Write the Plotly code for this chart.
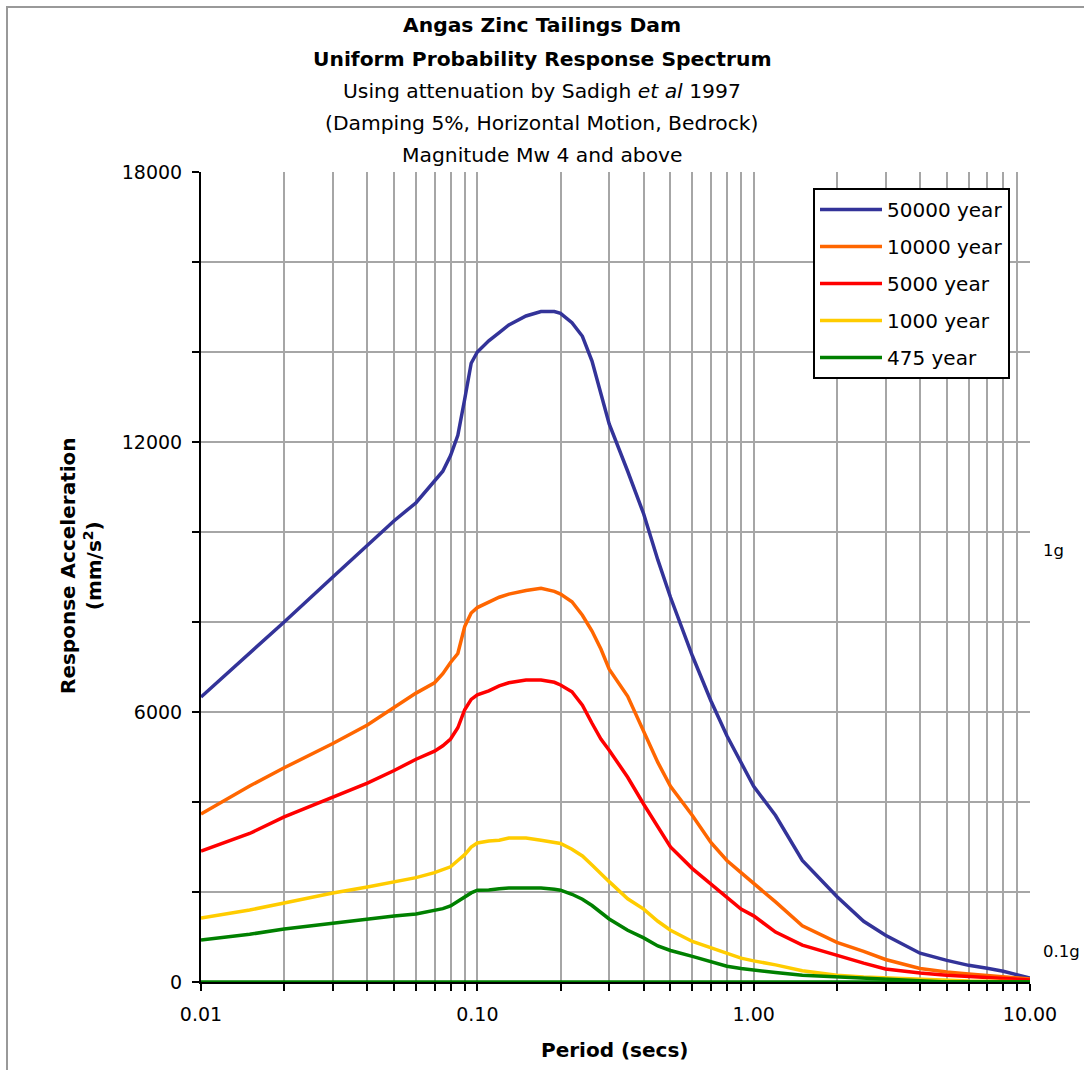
import plotly.graph_objects as go

periods = [0.01, 0.015, 0.02, 0.03, 0.04, 0.05, 0.06, 0.07, 0.075, 0.08, 0.085, 0.09, 0.095,
           0.1, 0.11, 0.12, 0.13, 0.15, 0.17, 0.19, 0.2, 0.22, 0.24, 0.26, 0.28, 0.3, 0.35,
           0.4, 0.45, 0.5, 0.6, 0.7, 0.8, 0.9, 1.0, 1.2, 1.5, 2.0, 2.5, 3.0, 4.0, 5.0, 6.0,
           7.0, 8.0, 10.0]

y50000 = [6333, 7300, 8000, 9000, 9700, 10250, 10650, 11150, 11350, 11700, 12150, 12950, 13750,
          14000, 14250, 14430, 14600, 14800, 14900, 14900, 14860, 14650, 14350, 13800, 13050, 12400, 11350,
          10400, 9380, 8550, 7250, 6250, 5470, 4880, 4350, 3700, 2700, 1900, 1350, 1040, 640, 480, 370,
          305, 240, 89]

y10000 = [3733, 4356, 4760, 5300, 5710, 6100, 6420, 6650, 6850, 7100, 7300, 7900, 8200,
          8320, 8450, 8550, 8620, 8700, 8750, 8680, 8620, 8450, 8150, 7800, 7400, 6950, 6350,
          5550, 4880, 4350, 3700, 3100, 2700, 2430, 2200, 1780, 1250, 880, 680, 500, 300, 220, 180,
          150, 120, 67]

y5000 = [2911, 3300, 3670, 4110, 4420, 4700, 4950, 5130, 5250, 5400, 5650, 6050, 6280,
         6380, 6470, 6580, 6650, 6710, 6710, 6660, 6600, 6450, 6150, 5750, 5400, 5150, 4550,
         3950, 3450, 3000, 2520, 2170, 1880, 1620, 1470, 1110, 820, 590, 420, 290, 200, 150, 120,
         100, 80, 44]

y1000 = [1422, 1600, 1756, 1978, 2111, 2230, 2320, 2430, 2490, 2560, 2700, 2830, 3000,
         3090, 3133, 3150, 3200, 3200, 3150, 3110, 3080, 2950, 2800, 2600, 2400, 2230, 1850,
         1620, 1350, 1150, 900, 760, 630, 530, 470, 380, 250, 150, 110, 89, 50, 30, 20,
         15, 10, 5]

y475 = [933, 1060, 1178, 1311, 1400, 1467, 1511, 1580, 1630, 1689, 1790, 1890, 1980,
        2040, 2044, 2070, 2089, 2089, 2089, 2060, 2040, 1950, 1840, 1700, 1550, 1400, 1150,
        980, 800, 700, 570, 450, 350, 300, 260, 210, 150, 110, 90, 70, 20, 0, 0,
        0, 0, 0]

zero_line = [0, 0]
zero_periods = [0.01, 10.0]

series_names = ["50000 year", "10000 year", "5000 year", "1000 year", "475 year"]
series_values = [y50000, y10000, y5000, y1000, y475]
series_colors = ["#333399", "#FF6600", "#FF0000", "#FFCC00", "#008000"]

x_tickvals = [m * 10 ** e for e in (-2, -1, 0) for m in range(1, 10)] + [10]
x_ticktext = [("%.2f" % v) if m == 1 else "" for e in (-2, -1, 0) for m, v in
              [(m, m * 10 ** e) for m in range(1, 10)]] + ["10.00"]
y_tickvals = list(range(0, 18001, 2000))
y_ticktext = [str(v) if v % 6000 == 0 else "" for v in y_tickvals]

FONT = "DejaVu Sans"

fig = go.Figure()
for i, (name, vals, col) in enumerate(zip(series_names, series_values, series_colors)):
    fig.add_trace(go.Scatter(x=periods, y=vals, mode="lines", name=name,
                             line=dict(color=col, width=3.5), legendgroup="g%d" % i))
fig.add_trace(go.Scatter(x=zero_periods, y=zero_line, mode="lines", showlegend=False,
                         line=dict(color="#008000", width=3.5), hoverinfo="skip"))

L, R, T, B = 201, 54, 172, 88
PW, PH = 1084 - L - R, 1070 - T - B


def px(xp):
    return (xp - L) / PW


def py(yp):
    return (T + PH - yp) / PH


annotations = []
title_lines = [
    ("<b>Angas Zinc Tailings Dam</b>", 25),
    ("<b>Uniform Probability Response Spectrum</b>", 59),
    ("Using attenuation by Sadigh <i>et al</i> 1997", 91),
    ("(Damping 5%, Horizontal Motion, Bedrock)", 123),
    ("Magnitude Mw 4 and above", 155),
]
for txt, yp in title_lines:
    annotations.append(dict(text=txt, xref="paper", yref="paper", x=px(542), y=py(yp),
                            xanchor="center", yanchor="middle", showarrow=False,
                            font=dict(family=FONT, size=20.3, color="black")))
annotations.append(dict(text="<b>Response Acceleration</b><br><b>(mm/s<sup>2</sup>)</b>",
                        xref="paper", yref="paper", x=px(81), y=py(565), textangle=-90,
                        xanchor="center", yanchor="middle", showarrow=False,
                        font=dict(family=FONT, size=20, color="black")))
annotations.append(dict(text="<b>Period (secs)</b>", xref="paper", yref="paper",
                        x=px(614), y=py(1050), xanchor="center", yanchor="middle",
                        showarrow=False, font=dict(family=FONT, size=20, color="black")))
annotations.append(dict(text="1g", xref="paper", yref="paper", x=px(1041), y=py(550),
                        xanchor="left", yanchor="middle", showarrow=False,
                        font=dict(family=FONT, size=16.5, color="black")))
annotations.append(dict(text="0.1g", xref="paper", yref="paper", x=px(1041), y=py(951),
                        xanchor="left", yanchor="middle", showarrow=False,
                        font=dict(family=FONT, size=16.5, color="black")))

fig.update_layout(
    width=1084, height=1070,
    margin=dict(l=L, r=R, t=T, b=B),
    paper_bgcolor="white", plot_bgcolor="white",
    font=dict(family=FONT, size=19, color="black"),
    showlegend=True,
    legend=dict(x=px(813), y=py(188), xanchor="left", yanchor="top",
                bgcolor="white", bordercolor="black", borderwidth=2,
                font=dict(family=FONT, size=20, color="black"),
                tracegroupgap=8, itemwidth=62),
    annotations=annotations,
    shapes=[dict(type="rect", xref="paper", yref="paper", x0=px(7), y0=-0.5, x1=1.5,
                 y1=py(7), line=dict(color="#999999", width=2), layer="below")],
)

fig.update_xaxes(type="log", range=[-2, 1], tickmode="array", tickvals=x_tickvals,
                 ticktext=x_ticktext, showgrid=True, gridcolor="#A6A6A6", gridwidth=1.5,
                 ticks="outside", ticklen=7, tickwidth=2, tickcolor="black",
                 showline=True, linecolor="black", linewidth=2, zeroline=False,
                 ticklabelstandoff=7, layer="below traces",
                 tickfont=dict(family=FONT, size=19))
fig.update_yaxes(range=[0, 18000], tickmode="array", tickvals=y_tickvals,
                 ticktext=y_ticktext, showgrid=True, gridcolor="#A6A6A6", gridwidth=1.5,
                 ticks="outside", ticklen=7, tickwidth=2, tickcolor="black",
                 showline=True, linecolor="black", linewidth=2, zeroline=False,
                 ticklabelstandoff=6, layer="below traces",
                 tickfont=dict(family=FONT, size=19))

fig.write_html("out.html")
